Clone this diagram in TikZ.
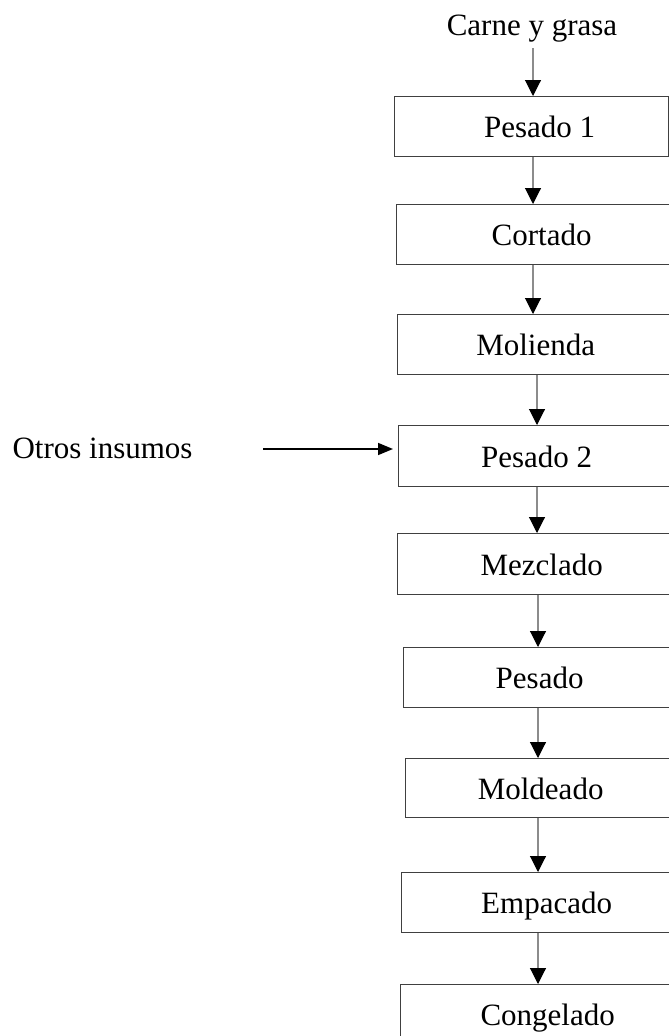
\documentclass[tikz,border=0pt]{standalone}
\usepackage{fontspec}
\setmainfont{Liberation Serif}
\usetikzlibrary{arrows.meta}
\tikzset{
  stepbox/.style={draw=black!75, line width=1.3pt, anchor=north west, inner sep=0pt,
    minimum height=60pt, text height=22pt, text depth=0pt,
    font=\fontsize{31}{37}\selectfont},
  lbl/.style={inner sep=0pt, anchor=base, font=\fontsize{31}{37}\selectfont},
  flow/.style={draw=black!45, line width=1.1pt, -{Triangle[length=16pt,width=16pt,color=black]}},
  feed/.style={draw=black, line width=1.6pt, -{Triangle[length=15pt,width=12pt,color=black]}}
}
\begin{document}
\begin{tikzpicture}[x=1pt,y=1pt]
\useasboundingbox (0,0) rectangle (669,-1036);
\clip (0,0) rectangle (669,-1036);
\node[lbl] (carne) at (532,-35) {Carne y grasa};
\node[lbl] (otros) at (102.5,-458) {Otros insumos};
\node[stepbox, minimum width=274pt] (p1) at (394,-96) {\hspace*{16pt}Pesado 1};
\node[stepbox, minimum width=290pt, minimum height=60pt] (cor) at (396,-204) {Cortado};
\node[stepbox, minimum width=276pt] (mol) at (397,-314) {Molienda};
\node[stepbox, minimum width=276pt, minimum height=61pt] (p2) at (398,-425) {Pesado 2};
\node[stepbox, minimum width=288pt, minimum height=61pt] (mez) at (397,-533) {Mezclado};
\node[stepbox, minimum width=272pt] (pes) at (403,-647) {Pesado};
\node[stepbox, minimum width=270pt, minimum height=59pt] (mold) at (405,-758) {Moldeado};
\node[stepbox, minimum width=290pt] (emp) at (401,-872) {Empacado};
\node[stepbox, minimum width=294pt] (cong) at (400,-984) {Congelado};
\coordinate (cin) at (533,-48);
\coordinate (feedstart) at (263,-449);
\draw[flow] (cin) -- (cin |- p1.north);
\draw[flow] (p1.south -| cin) -- (cor.north -| cin);
\draw[flow] (cor.south -| cin) -- (mol.north -| cin);
\draw[flow] ([xshift=4pt]mol.south -| cin) -- ([xshift=4pt]p2.north -| cin);
\draw[flow] ([xshift=4pt]p2.south -| cin) -- ([xshift=4pt]mez.north -| cin);
\draw[flow] ([xshift=5pt]mez.south -| cin) -- ([xshift=5pt]pes.north -| cin);
\draw[flow] ([xshift=5pt]pes.south -| cin) -- ([xshift=5pt]mold.north -| cin);
\draw[flow] ([xshift=5pt]mold.south -| cin) -- ([xshift=5pt]emp.north -| cin);
\draw[flow] ([xshift=5pt]emp.south -| cin) -- ([xshift=5pt]cong.north -| cin);
\draw[feed] (feedstart) -- ([xshift=-5pt]feedstart -| p2.west);
\end{tikzpicture}
\end{document}
